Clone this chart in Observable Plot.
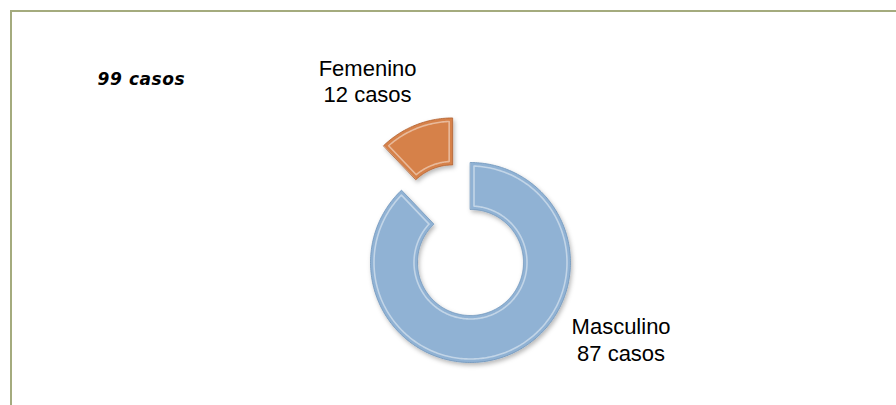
<!DOCTYPE html>
<html>
<head>
<meta charset="utf-8">
<script src="https://cdn.jsdelivr.net/npm/d3@7"></script>
<script src="https://cdn.jsdelivr.net/npm/@observablehq/plot@0.6"></script>
<style>
  html, body { margin: 0; padding: 0; background: #ffffff; }
  #chart { position: relative; width: 896px; height: 405px; overflow: hidden; }
  #border { position: absolute; left: 10px; top: 10px; width: 900px; height: 410px;
            border-top: 2px solid #a4ab7e; border-left: 2px solid #a4ab7e; pointer-events: none; }
  #chart svg { position: absolute; left: 0; top: 0; }
  .total { letter-spacing: 0.6px; }
</style>
</head>
<body>
<div id="chart"><div id="border"></div></div>
<script>
// ---- data ----
const categories = ["Masculino", "Femenino"];
const values = [87, 12];
const valueLabels = ["87 casos", "12 casos"];
const totalLabel = "99 casos";

// ---- style / layout ----
const colors = {Masculino: "#90b2d4", Femenino: "#d6814a"};
const edgeColors = {Masculino: "#7096bb", Femenino: "#b0602f"};
const W = 896, H = 405;
const layout = {
  cx: 470, cy: 262, R: 100,          // donut centre and outer radius in px
  hole: 0.53,                        // inner radius / outer radius
  explosion: {Femenino: 0.48},       // explosion as fraction of R
  label: {                           // label anchor: polar angle (deg, clockwise from top), radius in R units
    Masculino: {angle: 117, radius: 1.69},
    Femenino: {angle: -29.5, radius: 2.09}
  }
};

const xDomain = [-layout.cx / layout.R, (W - layout.cx) / layout.R];
const yDomain = [-(H - layout.cy) / layout.R, layout.cy / layout.R];

const sum = d3.sum(values);
let acc = 0;
const slices = categories.map((name, i) => {
  const a0 = acc / sum * 2 * Math.PI;
  acc += values[i];
  const a1 = acc / sum * 2 * Math.PI;
  return {name, value: values[i], a0, a1, mid: (a0 + a1) / 2,
          explode: layout.explosion[name] || 0, valueLabel: valueLabels[i]};
});

function ringPoints(s, rIn, rOut, inset) {
  const ox = s.explode * Math.sin(s.mid), oy = s.explode * Math.cos(s.mid);
  const ro = rOut - inset, ri = rIn + inset;
  const ao0 = s.a0 + inset / ro, ao1 = s.a1 - inset / ro;
  const ai0 = s.a0 + inset / ri, ai1 = s.a1 - inset / ri;
  const n = Math.max(12, Math.ceil((s.a1 - s.a0) / (Math.PI / 180)));
  const pts = [];
  for (let k = 0; k <= n; k++) {
    const a = ao0 + (ao1 - ao0) * k / n;
    pts.push({name: s.name, x: ox + ro * Math.sin(a), y: oy + ro * Math.cos(a)});
  }
  for (let k = n; k >= 0; k--) {
    const a = ai0 + (ai1 - ai0) * k / n;
    pts.push({name: s.name, x: ox + ri * Math.sin(a), y: oy + ri * Math.cos(a)});
  }
  return pts;
}

const body = slices.flatMap(s => ringPoints(s, layout.hole, 1, 0));
const highlight = slices.flatMap(s => ringPoints(s, layout.hole, 1, 0.035));

const labelData = slices.map(s => {
  const L = layout.label[s.name];
  const a = L.angle * Math.PI / 180;
  return {name: s.name, text: s.name + "\n" + s.valueLabel,
          x: L.radius * Math.sin(a), y: L.radius * Math.cos(a)};
});

const chart = Plot.plot({
  width: W, height: H,
  margin: 0,
  x: {domain: xDomain, axis: null},
  y: {domain: yDomain, axis: null},
  color: {domain: categories, range: categories.map(c => colors[c])},
  style: {background: "transparent"},
  marks: [
    Plot.line(body, {x: "x", y: "y", z: "name", fill: "name", curve: "linear-closed",
                     stroke: d => edgeColors[d.name], strokeWidth: 0.8}),
    Plot.line(highlight, {x: "x", y: "y", z: "name", curve: "linear-closed",
                          stroke: "#ffffff", strokeOpacity: 0.45, strokeWidth: 1.6}),
    Plot.text(labelData, {x: "x", y: "y", text: "text", fill: "#000000",
                          fontSize: 22, lineHeight: 1.2, textAnchor: "middle",
                          fontFamily: "Liberation Sans, Arial, sans-serif"}),
    Plot.text([totalLabel], {frameAnchor: "top-left", text: d => d, dx: 97, dy: 79,
                             fontSize: 17, fontWeight: "bold", fontStyle: "italic",
                             fill: "#000000", textAnchor: "start", lineAnchor: "middle",
                             fontFamily: "DejaVu Sans, sans-serif", className: "total"})
  ]
});

// soft drop shadow for the 3D-bevel look
const svg = d3.select(chart);
const defs = svg.insert("defs", ":first-child");
const f = defs.append("filter").attr("id", "shadow").attr("x", "-20%").attr("y", "-20%")
  .attr("width", "140%").attr("height", "140%");
f.append("feDropShadow").attr("dx", 1.5).attr("dy", 2.5).attr("stdDeviation", 2.2)
  .attr("flood-color", "#000").attr("flood-opacity", 0.28);
svg.select('g[aria-label="line"]').attr("filter", "url(#shadow)");
svg.selectAll("text").filter(function() { return this.textContent === totalLabel; })
  .style("letter-spacing", "0.6px");

document.getElementById("chart").appendChild(chart);
</script>
</body>
</html>
